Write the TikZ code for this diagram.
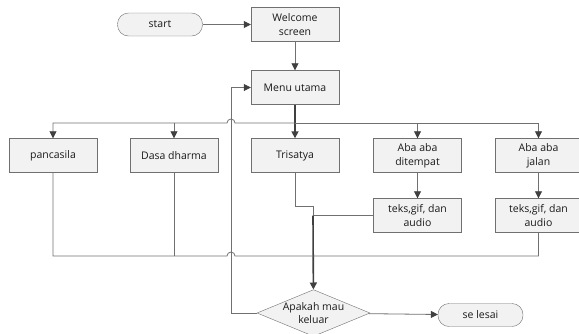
\documentclass[tikz,border=0pt]{standalone}
\usepackage{fontspec}
\setmainfont{Open Sans}
\usetikzlibrary{positioning,shapes.geometric,arrows.meta}

\definecolor{linegray}{HTML}{707070}
\definecolor{tipgray}{HTML}{404040}
\definecolor{boxfill}{HTML}{F2F2F2}
\definecolor{textgray}{HTML}{1A1A1A}

\tikzstyle{terminal}=[rectangle, rounded corners=11pt, minimum width=85pt, minimum height=23pt, text centered, draw=linegray, fill=boxfill, text=textgray, font=\fontsize{10.5}{14}\selectfont]
\tikzstyle{process}=[rectangle, minimum width=88pt, minimum height=34pt, align=center, inner sep=1pt, draw=linegray, fill=boxfill, text=textgray, font=\fontsize{10.5}{14}\selectfont]
\tikzstyle{decision}=[diamond, minimum width=113pt, minimum height=46pt, aspect=2.4, inner sep=0pt, align=center, draw=linegray, fill=boxfill, text=textgray, font=\fontsize{10.5}{13}\selectfont]
\tikzstyle{line}=[draw=linegray, line width=0.8pt]
\tikzstyle{arrow2}=[line, -{Triangle[length=7pt,width=7pt,color=tipgray]}]
\tikzstyle{heavy}=[line width=1.6pt, draw=tipgray]

\begin{document}
\begin{tikzpicture}[x=1pt, y=1pt, node distance=121pt]
\useasboundingbox (0,0) rectangle (579,-333);
\node (start) [terminal] at (160,-24.5) {start};
\node (welcome) [process, right of = start, xshift = 14pt] {Welcome\\screen};
\node (menu) [process, below of = welcome, yshift = 58pt] {Menu utama};
\node (trisatya) [process, below of = menu, yshift = 53pt] {Trisatya};
\node (dasa) [process, left of = trisatya] {Dasa dharma};
\node (pancasila) [process, left of = dasa] {pancasila};
\node (tempat) [process, right of = trisatya, xshift = 1.5pt] {Aba aba\\ditempat};
\node (jalan) [process, right of = tempat, minimum width = 86pt] {Aba aba\\jalan};
\node (teks1) [process, below of = tempat, yshift = 61pt] {teks,gif, dan\\audio};
\node (teks2) [process, below of = jalan, yshift = 61pt, minimum width = 86pt] {teks,gif, dan\\audio};
\node (decision) [decision, below of = trisatya, xshift = 18.5pt, yshift = -36.5pt] {Apakah mau\\keluar};
\node (selesai) [terminal, right of = decision, xshift = 46pt, yshift = -2pt] {se lesai};
\coordinate (loop) at (231,-313);
\coordinate (bus1) at (295,-123);
\coordinate (bus2) at (313,-256);

\draw[arrow2](start)--(welcome);
\draw[arrow2](welcome)--(menu);
\draw[arrow2, heavy](menu)--(trisatya);
% upper bus with jump over the loop line
\draw[arrow2](bus1)--([xshift=4pt]bus1 -| loop) arc[start angle=0, end angle=180, radius=4pt]
  --(bus1 -| pancasila)--(pancasila);
\draw[arrow2](bus1 -| dasa)--(dasa);
\draw[arrow2](bus1)--(bus1 -| jalan)--(jalan);
\draw[arrow2](bus1 -| tempat)--(tempat);
\draw[arrow2](tempat)--(teks1);
\draw[arrow2](jalan)--(teks2);
% back to the decision
\draw[line](trisatya.south)--++(0,-34)-|(teks1.west -| bus2);
\draw[line](teks1)--(teks1.west -| bus2);
\draw[arrow2, heavy](teks1.west -| bus2)--(decision);
\draw[line](pancasila)--(pancasila |- bus2)--([xshift=-4pt]bus2 -| loop) arc[start angle=180, end angle=0, radius=4pt]
  --(bus2 -| teks2)--(teks2);
\draw[line](dasa)--(dasa |- bus2);
\draw[arrow2](decision)--(loop)|-(menu);
\draw[arrow2](decision)--(selesai);
\end{tikzpicture}
\end{document}
